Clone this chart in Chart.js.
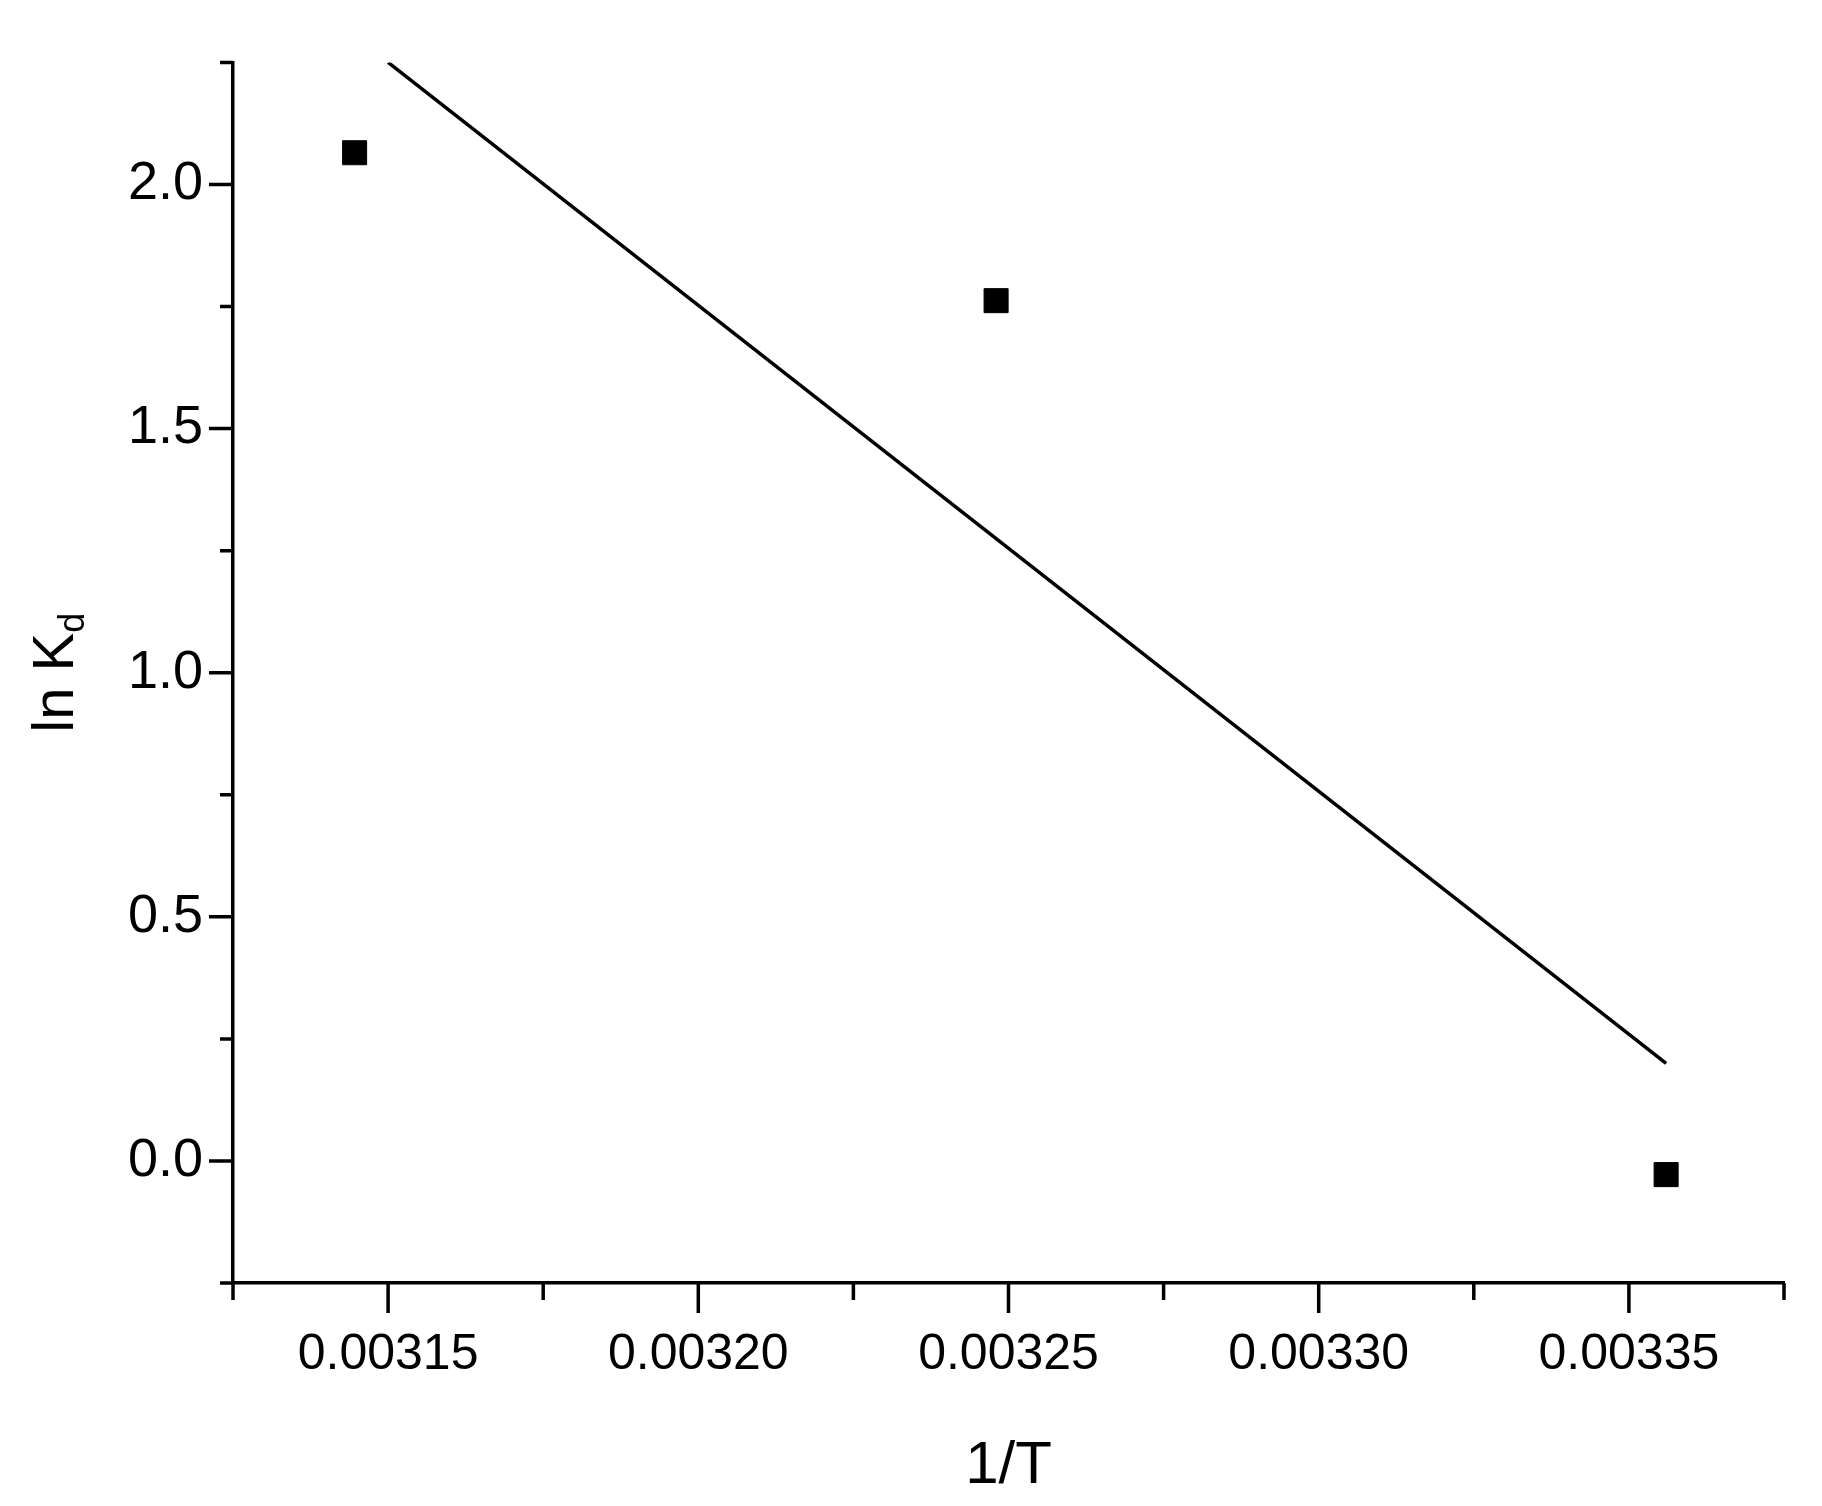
<!DOCTYPE html>
<html>
<head>
<meta charset="utf-8">
<script src="https://cdn.jsdelivr.net/npm/chart.js@4/dist/chart.umd.min.js"></script>
<style>
  html, body { margin: 0; padding: 0; background: #fff; }
  #wrap { width: 1822px; height: 1506px; }
</style>
</head>
<body>
<div id="wrap"><canvas id="c"></canvas></div>
<script>
// measured points (1/T, ln Kd)
const invT = [0.0031446, 0.003248, 0.003356];
const lnKd = [2.065, 1.762, -0.028];
// linear fit end points
const fitX = [0.003150, 0.003356];
const fitY = [2.25, 0.20];
const xMajor = [0.00315, 0.00320, 0.00325, 0.00330, 0.00335];
const yMajor = [0.0, 0.5, 1.0, 1.5, 2.0];

const FONT = 'Liberation Sans, Arial, sans-serif';

// axis ticks (major + minor) and y-title with subscript
const axisDecor = {
  id: 'axisDecor',
  afterDraw(chart) {
    const { ctx, chartArea: a, scales: { x, y } } = chart;
    ctx.save();
    ctx.strokeStyle = '#000';
    ctx.lineWidth = 3.5;
    ctx.beginPath();
    for (let v = 0.003125; v <= 0.003376; v += 0.000025) {
      const px = x.getPixelForValue(v);
      const major = xMajor.some(m => Math.abs(m - v) < 1e-9);
      ctx.moveTo(px, a.bottom);
      ctx.lineTo(px, a.bottom + (major ? 30 : 17));
    }
    for (let v = -0.25; v <= 2.251; v += 0.25) {
      const py = y.getPixelForValue(v);
      const major = yMajor.some(m => Math.abs(m - v) < 1e-9);
      ctx.moveTo(a.left, py);
      ctx.lineTo(a.left - (major ? 24 : 13), py);
    }
    ctx.stroke();

    // y title: ln K_d
    ctx.fillStyle = '#000';
    ctx.translate(52, (a.top + a.bottom) / 2);
    ctx.rotate(-Math.PI / 2);
    ctx.font = '58px ' + FONT;
    const mainW = ctx.measureText('ln K').width;
    ctx.font = '36px ' + FONT;
    const subW = ctx.measureText('d').width;
    const w = mainW + subW;
    ctx.textBaseline = 'alphabetic';
    ctx.font = '58px ' + FONT;
    ctx.fillText('ln K', -w / 2, 21);
    ctx.font = '36px ' + FONT;
    ctx.fillText('d', -w / 2 + mainW, 32);
    ctx.restore();
  }
};

new Chart(document.getElementById('c'), {
  data: {
    datasets: [
      {
        type: 'scatter',
        data: invT.map((v, i) => ({ x: v, y: lnKd[i] })),
        pointStyle: 'rect',
        pointRadius: 17,
        backgroundColor: '#000',
        borderColor: '#000',
      },
      {
        type: 'line',
        data: fitX.map((v, i) => ({ x: v, y: fitY[i] })),
        borderColor: '#000',
        borderWidth: 3.5,
        pointRadius: 0,
        fill: false,
      },
    ],
  },
  options: {
    responsive: true,
    maintainAspectRatio: false,
    animation: false,
    layout: { padding: { top: 16, right: 38, left: 0, bottom: 0 } },
    plugins: { legend: { display: false }, tooltip: { enabled: false } },
    scales: {
      x: {
        type: 'linear',
        min: 0.003125,
        max: 0.003375,
        afterFit: s => { s.height = 223; },
        afterBuildTicks: s => { s.ticks = xMajor.map(v => ({ value: v })); },
        grid: { display: false, drawTicks: false },
        border: { display: true, color: '#000', width: 3.5 },
        ticks: {
          padding: 42,
          color: '#000',
          font: { family: FONT, size: 50 },
          callback: v => v.toFixed(5),
        },
        title: { display: true, text: '1/T', color: '#000', font: { family: FONT, size: 60 }, padding: { top: 22 } },
      },
      y: {
        min: -0.25,
        max: 2.25,
        afterFit: s => { s.width = 233; },
        afterBuildTicks: s => { s.ticks = yMajor.map(v => ({ value: v })); },
        grid: { display: false, drawTicks: false },
        border: { display: true, color: '#000', width: 3.5 },
        ticks: {
          padding: 30,
          color: '#000',
          font: { family: FONT, size: 54 },
          callback: v => v.toFixed(1),
        },
      },
    },
  },
  plugins: [axisDecor],
});
</script>
</body>
</html>
